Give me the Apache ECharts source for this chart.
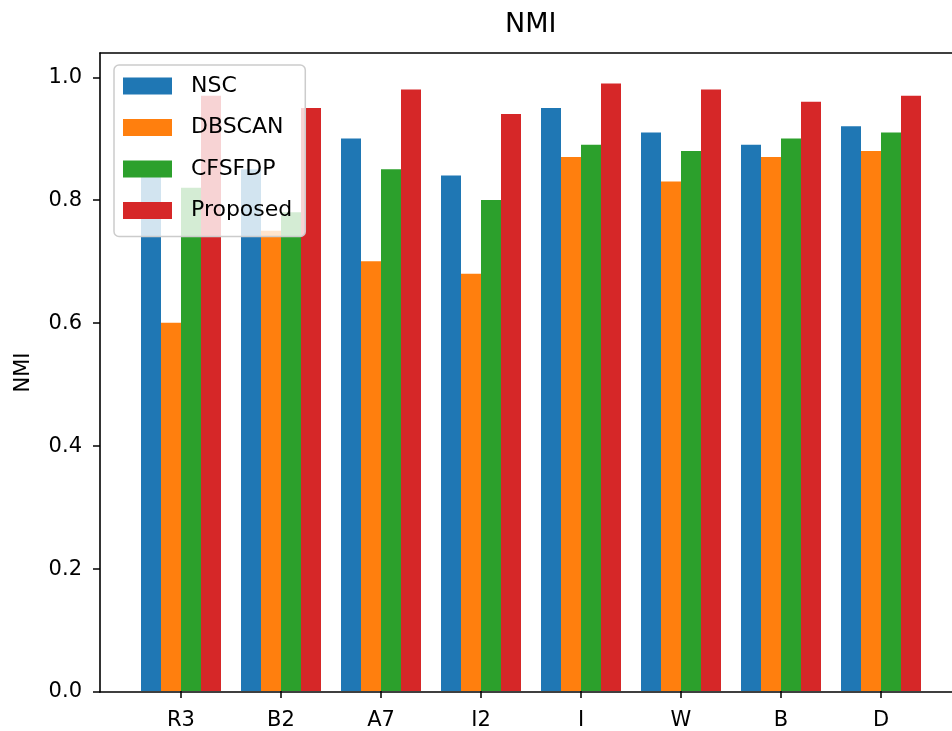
<!DOCTYPE html>
<html>
<head>
<meta charset="utf-8">
<script src="https://cdn.jsdelivr.net/npm/echarts@6/dist/echarts.min.js"></script>
<style>
  html, body { margin: 0; padding: 0; background: #fff; }
  #chart { width: 952px; height: 731px; }
</style>
</head>
<body>
<div id="chart"></div>
<script>
// Datasets on the x axis
const categories = ['R3', 'B2', 'A7', 'I2', 'I', 'W', 'B', 'D'];

// NMI score of each clustering method per dataset
const nsc      = [0.86, 0.85, 0.90, 0.84, 0.95, 0.91, 0.89, 0.92];
const dbscan   = [0.60, 0.75, 0.70, 0.68, 0.87, 0.83, 0.87, 0.88];
const cfsfdp   = [0.82, 0.78, 0.85, 0.80, 0.89, 0.88, 0.90, 0.91];
const proposed = [0.97, 0.95, 0.98, 0.94, 0.99, 0.98, 0.96, 0.97];

const yTicks = [0, 0.2, 0.4, 0.6, 0.8, 1.0];

const FONT = 'DejaVu Sans';
const Y_MAX = 1.0395;

const seriesDefs = [
  { name: 'NSC', data: nsc, color: '#1f77b4' },
  { name: 'DBSCAN', data: dbscan, color: '#ff7f0e' },
  { name: 'CFSFDP', data: cfsfdp, color: '#2ca02c' },
  { name: 'Proposed', data: proposed, color: '#d62728' }
];

const spine = { show: true, lineStyle: { color: '#000', width: 1.6 } };

const chart = echarts.init(document.getElementById('chart'), null, { renderer: 'canvas' });

chart.setOption({
  animation: false,
  backgroundColor: '#ffffff',
  title: {
    text: 'NMI',
    left: 505,
    top: 11,
    padding: 0,
    textStyle: { fontFamily: FONT, fontSize: 27, fontWeight: 'normal', color: '#000' }
  },
  legend: {
    left: 114,
    top: 65,
    orient: 'vertical',
    padding: [10, 13, 15, 9],
    itemWidth: 49,
    itemHeight: 17,
    itemGap: 19.5,
    icon: 'rect',
    backgroundColor: 'rgba(255,255,255,0.8)',
    borderColor: '#cccccc',
    borderWidth: 1.5,
    borderRadius: 5,
    textStyle: {
      fontFamily: FONT, fontSize: 22, color: '#000',
      lineHeight: 17, padding: [0, 0, 0, 14]
    },
    data: seriesDefs.map(s => s.name)
  },
  grid: [
    // axes frame; its right side runs past the canvas edge
    { left: 100, top: 53, right: -8, height: 639 },
    // bar area: one 100px band per dataset
    { left: 131, top: 53, width: 800, height: 639 }
  ],
  xAxis: [
    // bottom spine
    { type: 'value', gridIndex: 0, min: 0, max: 1, position: 'bottom',
      axisLine: spine, axisTick: { show: false }, axisLabel: { show: false },
      splitLine: { show: false } },
    // top spine
    { type: 'value', gridIndex: 0, min: 0, max: 1, position: 'top',
      axisLine: spine, axisTick: { show: false }, axisLabel: { show: false },
      splitLine: { show: false } },
    {
      type: 'category', gridIndex: 1, data: categories,
      axisLine: { show: false },
      axisTick: { show: true, alignWithLabel: true, length: 7,
        lineStyle: { color: '#000', width: 1.5 } },
      axisLabel: { margin: 19, fontFamily: FONT, fontSize: 21, color: '#000' },
      splitLine: { show: false }
    }
  ],
  yAxis: [
    {
      type: 'value', gridIndex: 0, min: 0, max: Y_MAX,
      name: 'NMI', nameLocation: 'middle', nameRotate: 90, nameGap: 66,
      nameTextStyle: { fontFamily: FONT, fontSize: 21, color: '#000' },
      axisLine: spine,
      axisTick: { show: true, length: 7, customValues: yTicks,
        lineStyle: { color: '#000', width: 1.5 } },
      axisLabel: { margin: 18, fontFamily: FONT, fontSize: 21, color: '#000',
        customValues: yTicks, formatter: v => v.toFixed(1) },
      splitLine: { show: false }
    },
    { type: 'value', gridIndex: 1, min: 0, max: Y_MAX, show: false }
  ],
  series: seriesDefs.map(s => ({
    name: s.name,
    type: 'bar',
    xAxisIndex: 2,
    yAxisIndex: 1,
    data: s.data,
    barWidth: 20,
    barGap: '0%',
    itemStyle: { color: s.color },
    emphasis: { disabled: true }
  }))
});
</script>
</body>
</html>
